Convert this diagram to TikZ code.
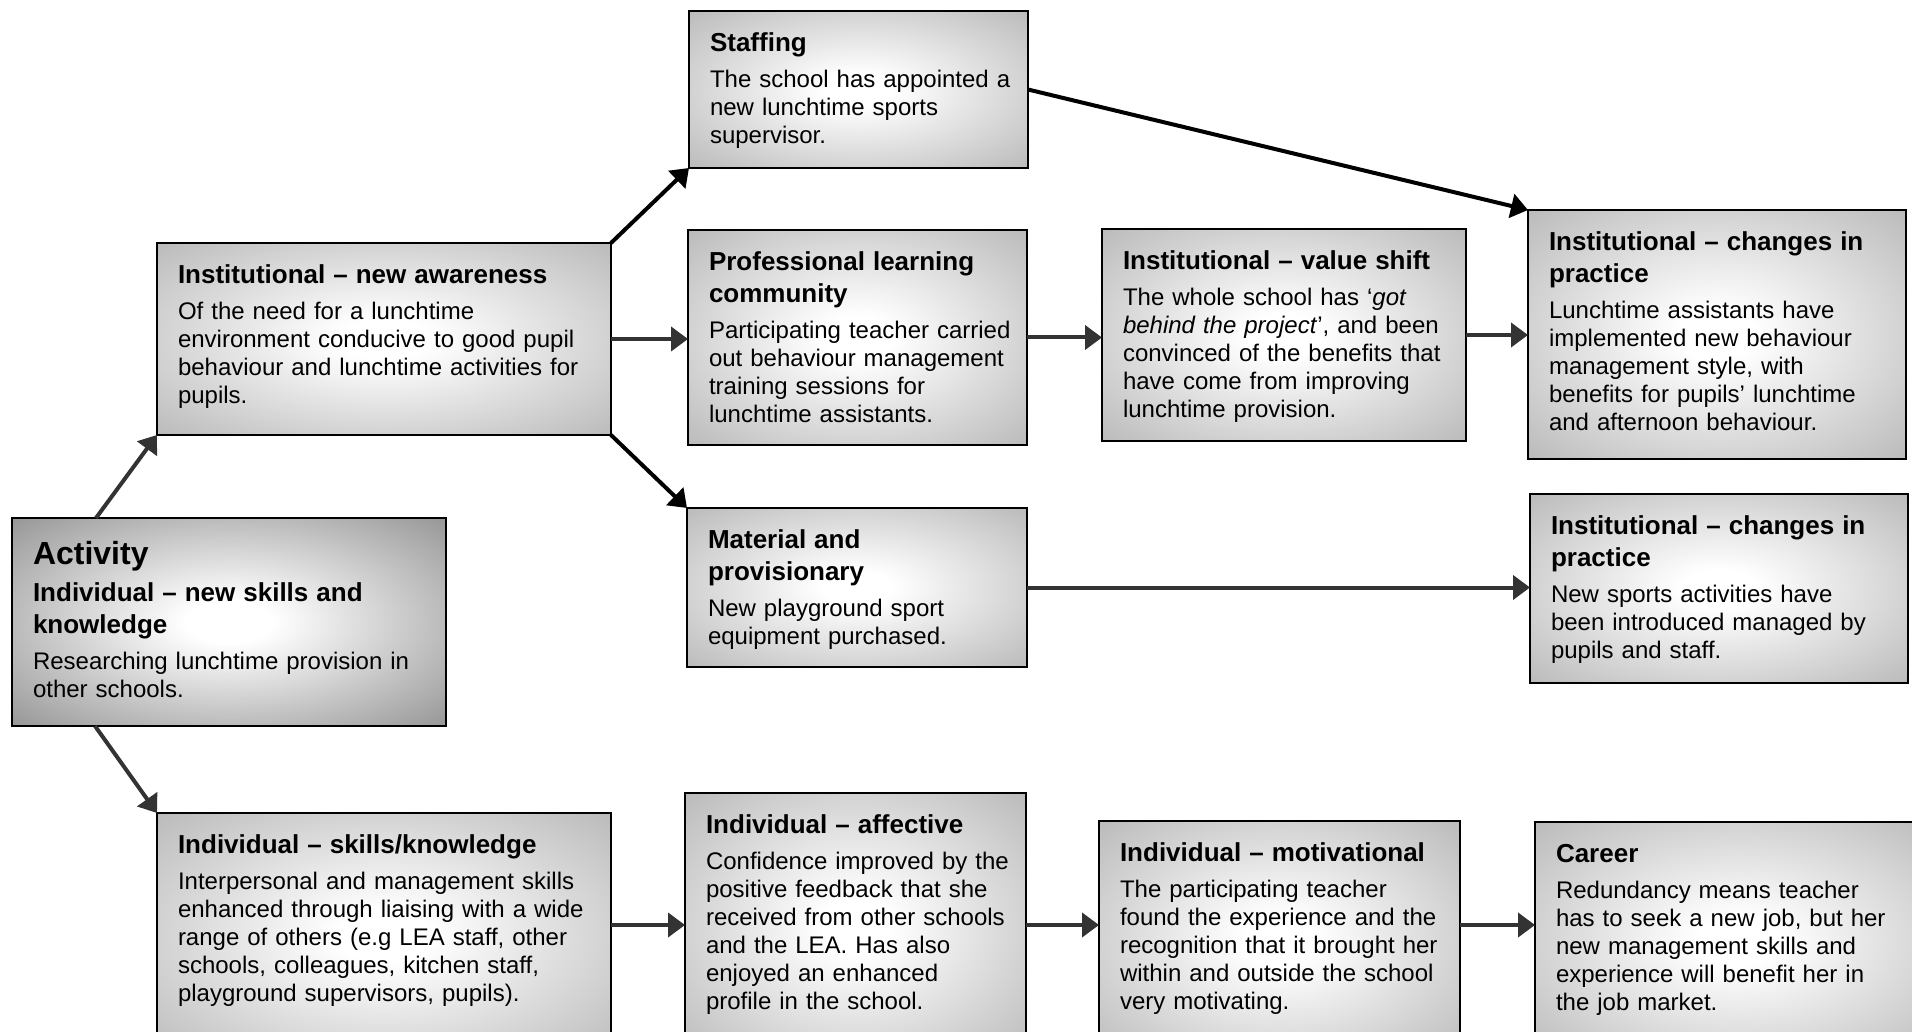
\documentclass[tikz,border=0pt]{standalone}
\usepackage{fontspec}
\setmainfont{Liberation Sans}
\usetikzlibrary{arrows.meta,calc}
\definecolor{boxgray}{RGB}{176,176,176}
\definecolor{actgray}{RGB}{128,128,128}
\definecolor{arrgray}{RGB}{51,51,51}
\pgfdeclareradialshading{boxshade}{\pgfpointorigin}{color(0bp)=(white);color(5bp)=(white);color(40bp)=(boxgray);color(50bp)=(boxgray)}
\pgfdeclareradialshading{actshade}{\pgfpointorigin}{color(0bp)=(white);color(5bp)=(white);color(42bp)=(actgray);color(50bp)=(actgray)}
\tikzset{
  box/.style={draw=black, line width=1.2pt, shading=boxshade, anchor=north west, inner sep=0pt, outer sep=0pt},
  actbox/.style={box, shading=actshade},
  txt/.style={anchor=north west, inner sep=0pt, outer sep=0pt, align=left, font=\fontsize{12}{14}\selectfont},
  arr/.style={line width=2pt, draw=arrgray, -{Triangle[length=8.5pt,width=12pt]}},
  blk/.style={arr, draw=black},
}
\newcommand\mkbox[6][box]{\node[#1, minimum width={(#5-#3)*0.5pt}, minimum height={(#6-#4)*0.5pt}] (#2) at (#3,#4) {};}
\newcommand\mktext[4]{\node[txt, text width=#2] (#1t) at ([xshift=10.5pt,yshift=-11pt]#1.north west) {{\fontsize{13}{16}\selectfont\bfseries #3\par}\vspace{4pt}#4\par};}
\begin{document}
\begin{tikzpicture}[x=0.5pt,y=-0.5pt]
\useasboundingbox (0,0) rectangle (1912,1032);
\clip (0,0) rectangle (1912,1032);
% boxes
\mkbox{staff}{689}{11}{1028}{168}
\mkbox{inst}{157}{243}{611}{435}
\mkbox{prof}{688}{230}{1027}{445}
\mkbox{value}{1102}{229}{1466}{441}
\mkbox{chgone}{1528}{210}{1906}{459}
\mkbox[actbox]{act}{12}{518}{446}{726}
\mkbox{mat}{687}{508}{1027}{667}
\mkbox{chgtwo}{1530}{494}{1908}{683}
\mkbox{skills}{157}{813}{611}{1060}
\mkbox{aff}{685}{793}{1026}{1060}
\mkbox{mot}{1099}{821}{1460}{1060}
\mkbox{career}{1535}{822}{1940}{1060}
% texts
\mktext{staff}{157pt}{Staffing}{The school has appointed a\\new lunchtime sports\\supervisor.}
\mktext{inst}{214pt}{Institutional -- new awareness}{Of the need for a lunchtime\\environment conducive to good pupil\\behaviour and lunchtime activities for\\pupils.}
\mktext{prof}{157pt}{Professional learning\\community}{Participating teacher carried\\out behaviour management\\training sessions for\\lunchtime assistants.}
\mktext{value}{170pt}{Institutional -- value shift}{The whole school has ‘\textit{got}\\\textit{behind the project}’, and been\\convinced of the benefits that\\have come from improving\\lunchtime provision.}
\mktext{chgone}{176pt}{Institutional -- changes in\\practice}{Lunchtime assistants have\\implemented new behaviour\\management style, with\\benefits for pupils’ lunchtime\\and afternoon behaviour.}
\node[txt, text width=204pt] (actt) at ([xshift=10.5pt,yshift=-11.5pt]act.north west)
  {{\fontsize{16}{19}\selectfont\bfseries Activity\par}\vspace{2.5pt}{\fontsize{13}{16}\selectfont\bfseries Individual -- new skills and\\knowledge\par}\vspace{4pt}Researching lunchtime provision in\\other schools.\par};
\mktext{mat}{157pt}{Material and\\provisionary}{New playground sport\\equipment purchased.}
\mktext{chgtwo}{176pt}{Institutional -- changes in\\practice}{New sports activities have\\been introduced managed by\\pupils and staff.}
\mktext{skills}{214pt}{Individual -- skills/knowledge}{Interpersonal and management skills\\enhanced through liaising with a wide\\range of others (e.g LEA staff, other\\schools, colleagues, kitchen staff,\\playground supervisors, pupils).}
\mktext{aff}{158pt}{Individual -- affective}{Confidence improved by the\\positive feedback that she\\received from other schools\\and the LEA. Has also\\enjoyed an enhanced\\profile in the school.}
\mktext{mot}{168pt}{Individual -- motivational}{The participating teacher\\found the experience and the\\recognition that it brought her\\within and outside the school\\very motivating.}
\mktext{career}{180pt}{Career}{Redundancy means teacher\\has to seek a new job, but her\\new management skills and\\experience will benefit her in\\the job market.}
% connectors
\coordinate (actN) at ([xshift=42pt]act.north west);
\coordinate (actS) at ([xshift=41.5pt]act.south west);
\coordinate (row) at (0,925);
\draw[arr] (actN) -- (inst.south west);
\draw[arr] (actS) -- (skills.north west);
\draw[blk] (inst.north east) -- (staff.south west);
\draw[blk] (inst.south east) -- (mat.north west);
\draw[blk] (staff.east) -- (chgone.north west);
\draw[arr] (inst.east) -- (inst.east -| prof.west);
\draw[arr] (prof.east) -- (prof.east -| value.west);
\draw[arr] (value.east) -- (value.east -| chgone.west);
\draw[arr] (mat.east) -- (mat.east -| chgtwo.west);
\draw[arr] (skills.east |- row) -- (aff.west |- row);
\draw[arr] (aff.east |- row) -- (mot.west |- row);
\draw[arr] (mot.east |- row) -- (career.west |- row);
\end{tikzpicture}
\end{document}
